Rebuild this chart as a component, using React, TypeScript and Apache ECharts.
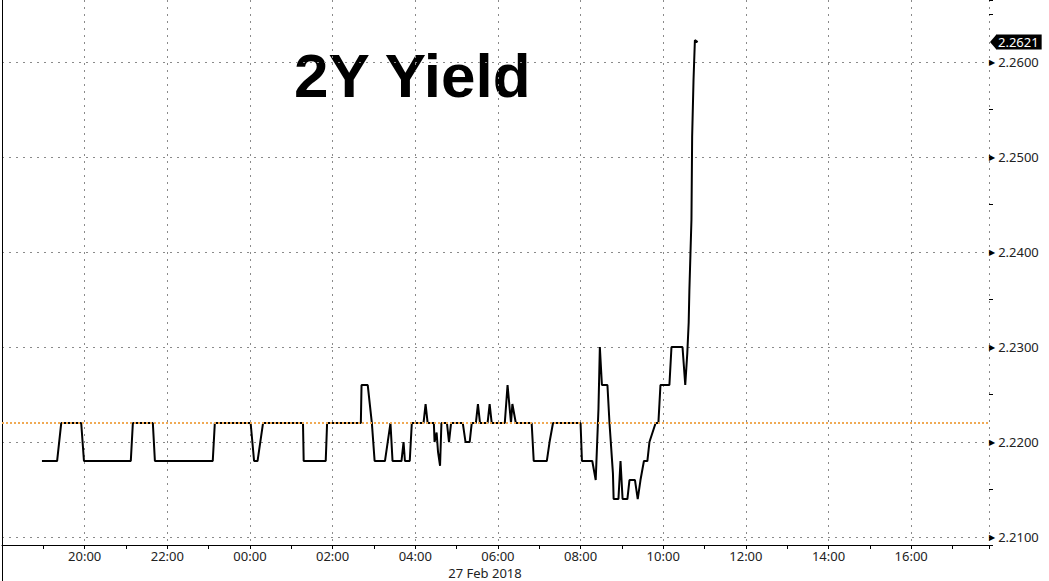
import React, { useEffect, useRef } from "react";
import * as echarts from "echarts";

// Times (HH:MM), session starts 26 Feb 18:00; times earlier than 18:00 are on 27 Feb
const times = [
  "18:58", "19:20", "19:26", "19:55", "19:59", "21:07", "21:10", "21:39", "21:42", "23:06",
  "23:09", "00:01", "00:06", "00:11", "00:19", "01:17", "01:18", "01:50", "01:52", "02:41",
  "02:42", "02:51", "02:57", "03:01", "03:16", "03:20", "03:24", "03:27", "03:40", "03:43",
  "03:45", "03:52", "03:55", "04:12", "04:15", "04:18", "04:27", "04:28", "04:31", "04:33",
  "04:36", "04:38", "04:46", "04:49", "04:52", "05:09", "05:13", "05:19", "05:22", "05:28",
  "05:31", "05:34", "05:45", "05:48", "05:51", "06:10", "06:14", "06:19", "06:21", "06:26",
  "06:49", "06:52", "07:11", "07:15", "07:20", "08:00", "08:02", "08:17", "08:22", "08:26",
  "08:28", "08:31", "08:39", "08:42", "08:47", "08:48", "08:55", "08:58", "09:01", "09:08",
  "09:11", "09:19", "09:23", "09:27", "09:32", "09:37", "09:40", "09:49", "09:53", "09:56",
  "10:09", "10:12", "10:28", "10:32", "10:35", "10:37", "10:38", "10:41", "10:42", "10:44",
  "10:46", "10:50",
];
const values = [
  2.218, 2.218, 2.222, 2.222, 2.218, 2.218, 2.222, 2.222, 2.218, 2.218,
  2.222, 2.222, 2.218, 2.218, 2.222, 2.222, 2.218, 2.218, 2.222, 2.222,
  2.226, 2.226, 2.222, 2.218, 2.218, 2.22, 2.222, 2.218, 2.218, 2.22,
  2.218, 2.218, 2.222, 2.222, 2.224, 2.222, 2.222, 2.22, 2.221, 2.219,
  2.2175, 2.222, 2.222, 2.22, 2.222, 2.222, 2.22, 2.22, 2.222, 2.222,
  2.224, 2.222, 2.222, 2.224, 2.222, 2.222, 2.226, 2.222, 2.224, 2.222,
  2.222, 2.218, 2.218, 2.22, 2.222, 2.222, 2.218, 2.218, 2.216, 2.2235,
  2.23, 2.226, 2.226, 2.222, 2.2167, 2.214, 2.214, 2.218, 2.214, 2.214,
  2.216, 2.216, 2.214, 2.216, 2.218, 2.218, 2.22, 2.222, 2.222, 2.226,
  2.226, 2.23, 2.23, 2.226, 2.2294, 2.2326, 2.236, 2.2434, 2.2521, 2.2581,
  2.2623, 2.2621,
];
const referenceLevel = 2.222;
const title = "2Y Yield";
const dateLabel = "27 Feb 2018";
const sessionStartHour = 18;
const axisStartTime = "18:00";
const axisEndTime = "17:53";
const yMin = 2.20916;
const yMax = 2.26653;

const toMinutes = (t: string) => {
  const [h, m] = t.split(":").map(Number);
  let v = h * 60 + m - sessionStartHour * 60;
  if (v < 0) v += 1440;
  return v;
};

const FONT = "Noto Sans";

export default function App() {
  const ref = useRef<HTMLDivElement>(null);
  useEffect(() => {
    if (!ref.current) return;
    const chart = echarts.init(ref.current, undefined, { renderer: "svg" });
    const data = times.map((t, i) => [toMinutes(t), values[i]]);
    const xMin = toMinutes(axisStartTime);
    const xMax = toMinutes(axisEndTime);
    const last = values[values.length - 1];
    chart.setOption({
      animation: false,
      backgroundColor: "#fff",
      grid: { left: 2, right: 60, top: 0, bottom: 36, containLabel: false },
      xAxis: {
        type: "value",
        min: xMin,
        max: xMax,
        interval: 120,
        axisLine: { show: true, lineStyle: { color: "#000", width: 1 } },
        axisTick: { show: true, length: 4, lineStyle: { color: "#000" } },
        minorTick: { show: true, splitNumber: 2, length: 4, lineStyle: { color: "#000" } },
        splitLine: { show: true, lineStyle: { color: "#8a8a8a", type: [2, 5], width: 1 } },
        axisLabel: {
          showMinLabel: false,
          showMaxLabel: false,
          margin: 4,
          fontFamily: FONT,
          fontSize: 13,
          color: "#222",
          formatter: (v: number) => {
            const h = (sessionStartHour + Math.round(v / 60)) % 24;
            return (h < 10 ? "0" : "") + h + ":00";
          },
        },
      },
      yAxis: [
        {
          type: "value",
          position: "right",
          min: yMin,
          max: yMax,
          splitNumber: 6,
          axisLine: { show: true, lineStyle: { color: "#000", width: 1 } },
          axisTick: { show: false },
          splitLine: {
            show: true,
            showMaxLine: false,
            showMinLine: false,
            lineStyle: { color: "#8a8a8a", type: [2, 5], width: 1 },
          },
          axisLabel: {
            showMinLabel: false,
            showMaxLabel: false,
            margin: 0,
            color: "#222",
            fontFamily: FONT,
            fontSize: 13,
            formatter: (v: number) => "{t|▶}{v|" + v.toFixed(4) + "}",
            rich: {
              t: { fontSize: 8, color: "#000", padding: [0, 3, 0, 0], fontFamily: "DejaVu Sans" },
              v: { fontSize: 13, color: "#222", fontFamily: FONT },
            },
          },
        },
        {
          type: "value",
          position: "right",
          min: yMin,
          max: yMax,
          splitNumber: 12,
          axisLine: { show: false },
          axisTick: { show: true, length: 4, lineStyle: { color: "#000" } },
          splitLine: { show: false },
          axisLabel: { show: false },
        },
      ],
      series: [
        {
          type: "line",
          data,
          showSymbol: false,
          symbol: "none",
          lineStyle: { color: "#000", width: 2 },
          z: 3,
          markLine: {
            silent: true,
            precision: 4,
            symbol: ["none", "none"],
            label: { show: false },
            lineStyle: { color: "#f0aa55", type: [2, 2], width: 2 },
            data: [{ yAxis: referenceLevel }],
          },
          markPoint: {
            silent: true,
            symbol: "path://M0,5 L6,0 L6,10 Z",
            symbolSize: [6, 14],
            symbolOffset: [4, 0],
            itemStyle: { color: "#000" },
            label: {
              show: true,
              position: "right",
              distance: 0,
              color: "#fff",
              backgroundColor: "#000",
              fontFamily: FONT,
              fontSize: 13,
              padding: [0, 3, 0, 2],
              lineHeight: 15,
              formatter: () => last.toFixed(4),
            },
            data: [{ coord: [xMax, last] }],
          },
        },
      ],
      graphic: [
        {
          type: "text",
          left: 294,
          top: 44,
          style: {
            text: title,
            font: "bold 62px 'Liberation Sans'",
            fill: "#000",
            textVerticalAlign: "middle",
          },
        },
        {
          type: "text",
          x: 485,
          y: 573,
          style: {
            text: dateLabel,
            fontFamily: FONT,
            fontSize: 13,
            fill: "#222",
            textAlign: "center",
            textVerticalAlign: "middle",
          },
        },
        {
          type: "line",
          shape: { x1: 2.5, y1: 545, x2: 2.5, y2: 581 },
          style: { stroke: "#000", lineWidth: 1 },
        },
      ],
    });
    return () => chart.dispose();
  }, []);
  return (
    <div
      ref={ref}
      style={{ position: "fixed", left: 0, top: 0, width: 1049, height: 581, background: "#fff" }}
    />
  );
}
